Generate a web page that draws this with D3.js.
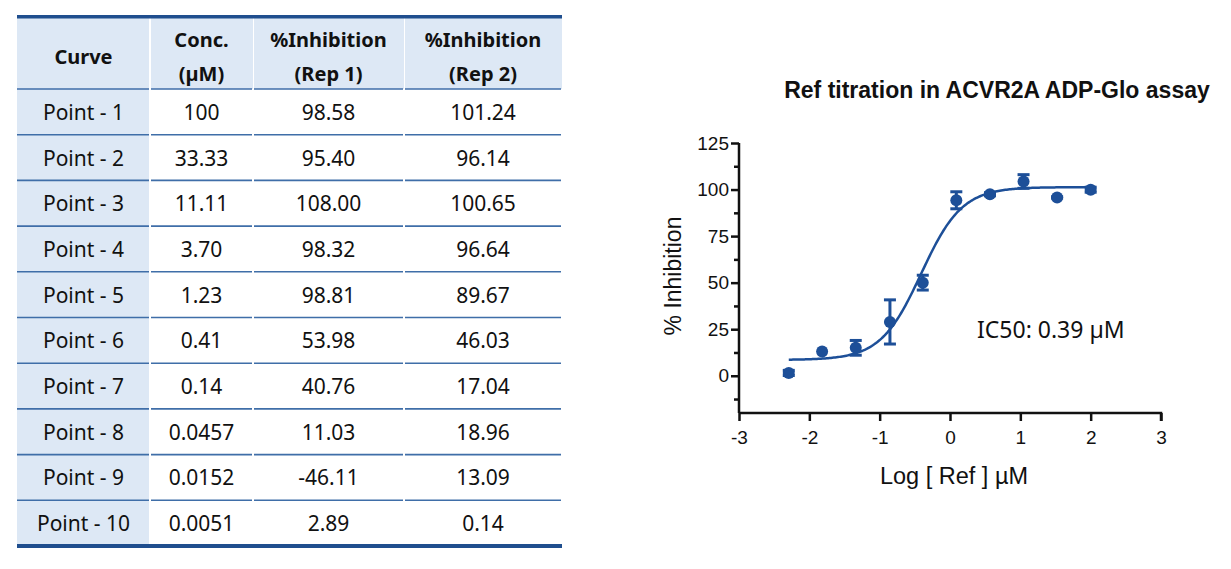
<!DOCTYPE html>
<html>
<head>
<meta charset="utf-8">
<title>Ref titration</title>
<style>
body { margin: 0; background: #fff; }
svg { display: block; }
</style>
</head>
<body>
<svg id="page" width="1231" height="569"></svg>
<script src="https://cdn.jsdelivr.net/npm/d3@7"></script>
<script>
// table data
const curveLabels = ["Point - 1", "Point - 2", "Point - 3", "Point - 4", "Point - 5",
                     "Point - 6", "Point - 7", "Point - 8", "Point - 9", "Point - 10"];
const concLabels = ["100", "33.33", "11.11", "3.70", "1.23", "0.41", "0.14", "0.0457", "0.0152", "0.0051"];
const rep1 = [98.58, 95.40, 108.00, 98.32, 98.81, 53.98, 40.76, 11.03, -46.11, 2.89];
const rep2 = [101.24, 96.14, 100.65, 96.64, 89.67, 46.03, 17.04, 18.96, 13.09, 0.14];
// [row, replicate index] left out of the plot (rep 1 of point 9 is an outlier)
const excluded = [[8, 0]];

// fitted curve parameters (log(inhibitor) vs response, variable slope)
const fitBottom = 8.5, fitTop = 101.3, fitHill = 1.5, ic50 = 0.39;

const xTicks = [-3, -2, -1, 0, 1, 2, 3];
const yTicks = [0, 25, 50, 75, 100, 125];
const yMinorTicks = [-12.5, 12.5, 37.5, 62.5, 87.5, 112.5];

const blue = "#1d4f98";
const svg = d3.select("#page");

// ---------- table ----------
const colEdges = [17, 150, 253, 404, 562];
const headTop = 17, headBottom = 89, rowH = 45.7;
const tableFont = "'Noto Sans', sans-serif";
const rowY = d3.range(curveLabels.length).map(i => headBottom + i * rowH);
const tableBottom = headBottom + curveLabels.length * rowH;

const table = svg.append("g");

// header background
colEdges.slice(0, -1).forEach((x0, j) => {
  table.append("rect")
    .attr("x", x0 + (j ? 1 : 0)).attr("y", headTop)
    .attr("width", colEdges[j + 1] - x0 - 1).attr("height", headBottom - headTop)
    .attr("fill", "#dde8f5");
});
// first column background
table.append("rect")
  .attr("x", colEdges[0]).attr("y", headBottom)
  .attr("width", colEdges[1] - colEdges[0] - 1).attr("height", tableBottom - headBottom)
  .attr("fill", "#dde8f5");

// row lines (broken at column gaps)
rowY.forEach(y => {
  colEdges.slice(0, -1).forEach((x0, j) => {
    table.append("line")
      .attr("x1", x0 + (j ? 1 : 0)).attr("x2", colEdges[j + 1] - 1)
      .attr("y1", y).attr("y2", y)
      .attr("stroke", "#3f6ea8").attr("stroke-width", 1.6);
  });
});
table.append("rect").attr("x", colEdges[0]).attr("y", headTop - 2)
  .attr("width", colEdges[4] - colEdges[0]).attr("height", 3.5).attr("fill", "#1f4e8e");
table.append("rect").attr("x", colEdges[0]).attr("y", tableBottom - 2)
  .attr("width", colEdges[4] - colEdges[0]).attr("height", 4).attr("fill", "#1f4e8e");

// header text
const headers = [["Curve"], ["Conc.", "(µM)"], ["%Inhibition", "(Rep 1)"], ["%Inhibition", "(Rep 2)"]];
headers.forEach((lines, j) => {
  const cx = (colEdges[j] + colEdges[j + 1]) / 2;
  const ys = lines.length === 1 ? [57] : [40, 74];
  lines.forEach((t, k) => {
    table.append("text")
      .attr("x", cx).attr("y", ys[k] + 7)
      .attr("text-anchor", "middle")
      .style("font-family", tableFont).style("font-size", "20px").style("font-weight", "bold")
      .attr("fill", "#111").text(t);
  });
});

// body text
const columns = [curveLabels, concLabels, rep1.map(v => v.toFixed(2)), rep2.map(v => v.toFixed(2))];
columns.forEach((col, j) => {
  const cx = (colEdges[j] + colEdges[j + 1]) / 2;
  table.selectAll(null).data(col).enter().append("text")
    .attr("x", cx)
    .attr("y", (d, i) => rowY[i] + rowH / 2 + 8)
    .attr("text-anchor", "middle")
    .style("font-family", tableFont).style("font-size", "21px")
    .attr("fill", "#111")
    .text(d => d);
});

// ---------- chart ----------
const x = d3.scaleLinear().domain([-3, 3]).range([739, 1161]);
const y = d3.scaleLinear().domain([-20, 125]).range([413, 143]);

const points = concLabels.map((c, i) => {
  const vals = [rep1[i], rep2[i]].filter((v, k) => !excluded.some(e => e[0] === i && e[1] === k));
  const mean = d3.mean(vals);
  const sem = vals.length > 1 ? d3.deviation(vals) / Math.sqrt(vals.length) : 0;
  return { lx: Math.log10(+c), mean: mean, sem: sem };
});

const chart = svg.append("g");
const axisFont = "'Liberation Sans', Arial, sans-serif";

chart.append("text")
  .attr("x", 997).attr("y", 98)
  .attr("text-anchor", "middle")
  .style("font-family", axisFont).style("font-size", "23px").style("font-weight", "bold")
  .attr("fill", "#111")
  .text("Ref titration in ACVR2A ADP-Glo assay");

// y axis
const yAxis = chart.append("g").attr("transform", "translate(739,0)")
  .call(d3.axisLeft(y).tickValues(yTicks).tickSize(8).tickPadding(2));
chart.append("g").attr("transform", "translate(739,0)")
  .call(d3.axisLeft(y).tickValues(yMinorTicks).tickSize(5).tickFormat(""))
  .call(g => g.select(".domain").remove());

// x axis
const xAxis = chart.append("g").attr("transform", "translate(0,413)")
  .call(d3.axisBottom(x).tickValues(xTicks).tickSize(8).tickPadding(10).tickFormat(d => String(d)));

chart.selectAll(".domain").attr("stroke", "#111").attr("stroke-width", 2.5);
chart.selectAll(".tick line").attr("stroke", "#111").attr("stroke-width", 2.5);
chart.selectAll(".tick text")
  .style("font-family", axisFont).style("font-size", "19px").attr("fill", "#111");
// keep the domain square-ended
yAxis.select(".domain").attr("d", "M-0,143V413");
xAxis.select(".domain").attr("d", "M739,0H1161V8");

// axis titles
chart.append("text")
  .attr("transform", "translate(681,276) rotate(-90)")
  .attr("text-anchor", "middle")
  .style("font-family", axisFont).style("font-size", "23px")
  .attr("fill", "#111").text("% Inhibition");
chart.append("text")
  .attr("x", 954).attr("y", 484)
  .attr("text-anchor", "middle")
  .style("font-family", axisFont).style("font-size", "23.5px")
  .attr("fill", "#111").text("Log [ Ref ] µM");

// fitted curve
const logIC50 = Math.log10(ic50);
const fit = lx => fitBottom + (fitTop - fitBottom) / (1 + Math.pow(10, (logIC50 - lx) * fitHill));
const xExtent = d3.extent(points, d => d.lx);
const curveXs = d3.range(xExtent[0], xExtent[1] + 0.001, 0.02);
chart.append("path")
  .datum(curveXs)
  .attr("fill", "none").attr("stroke", blue).attr("stroke-width", 2.5)
  .attr("d", d3.line().x(d => x(d)).y(d => y(fit(d))));

// error bars
const bars = chart.selectAll(".err").data(points.filter(d => d.sem > 0)).enter().append("g");
bars.append("line")
  .attr("x1", d => x(d.lx)).attr("x2", d => x(d.lx))
  .attr("y1", d => y(d.mean - d.sem)).attr("y2", d => y(d.mean + d.sem))
  .attr("stroke", blue).attr("stroke-width", 3);
[-1, 1].forEach(s => {
  bars.append("line")
    .attr("x1", d => x(d.lx) - 6).attr("x2", d => x(d.lx) + 6)
    .attr("y1", d => y(d.mean + s * d.sem)).attr("y2", d => y(d.mean + s * d.sem))
    .attr("stroke", blue).attr("stroke-width", 3);
});

// points
chart.selectAll(".pt").data(points).enter().append("circle")
  .attr("cx", d => x(d.lx)).attr("cy", d => y(d.mean))
  .attr("r", 6).attr("fill", blue);

// IC50 label
chart.append("text")
  .attr("x", 977).attr("y", 338)
  .style("font-family", tableFont).style("font-size", "23px")
  .attr("fill", "#111").text("IC50: " + ic50 + " µM");
</script>
</body>
</html>
